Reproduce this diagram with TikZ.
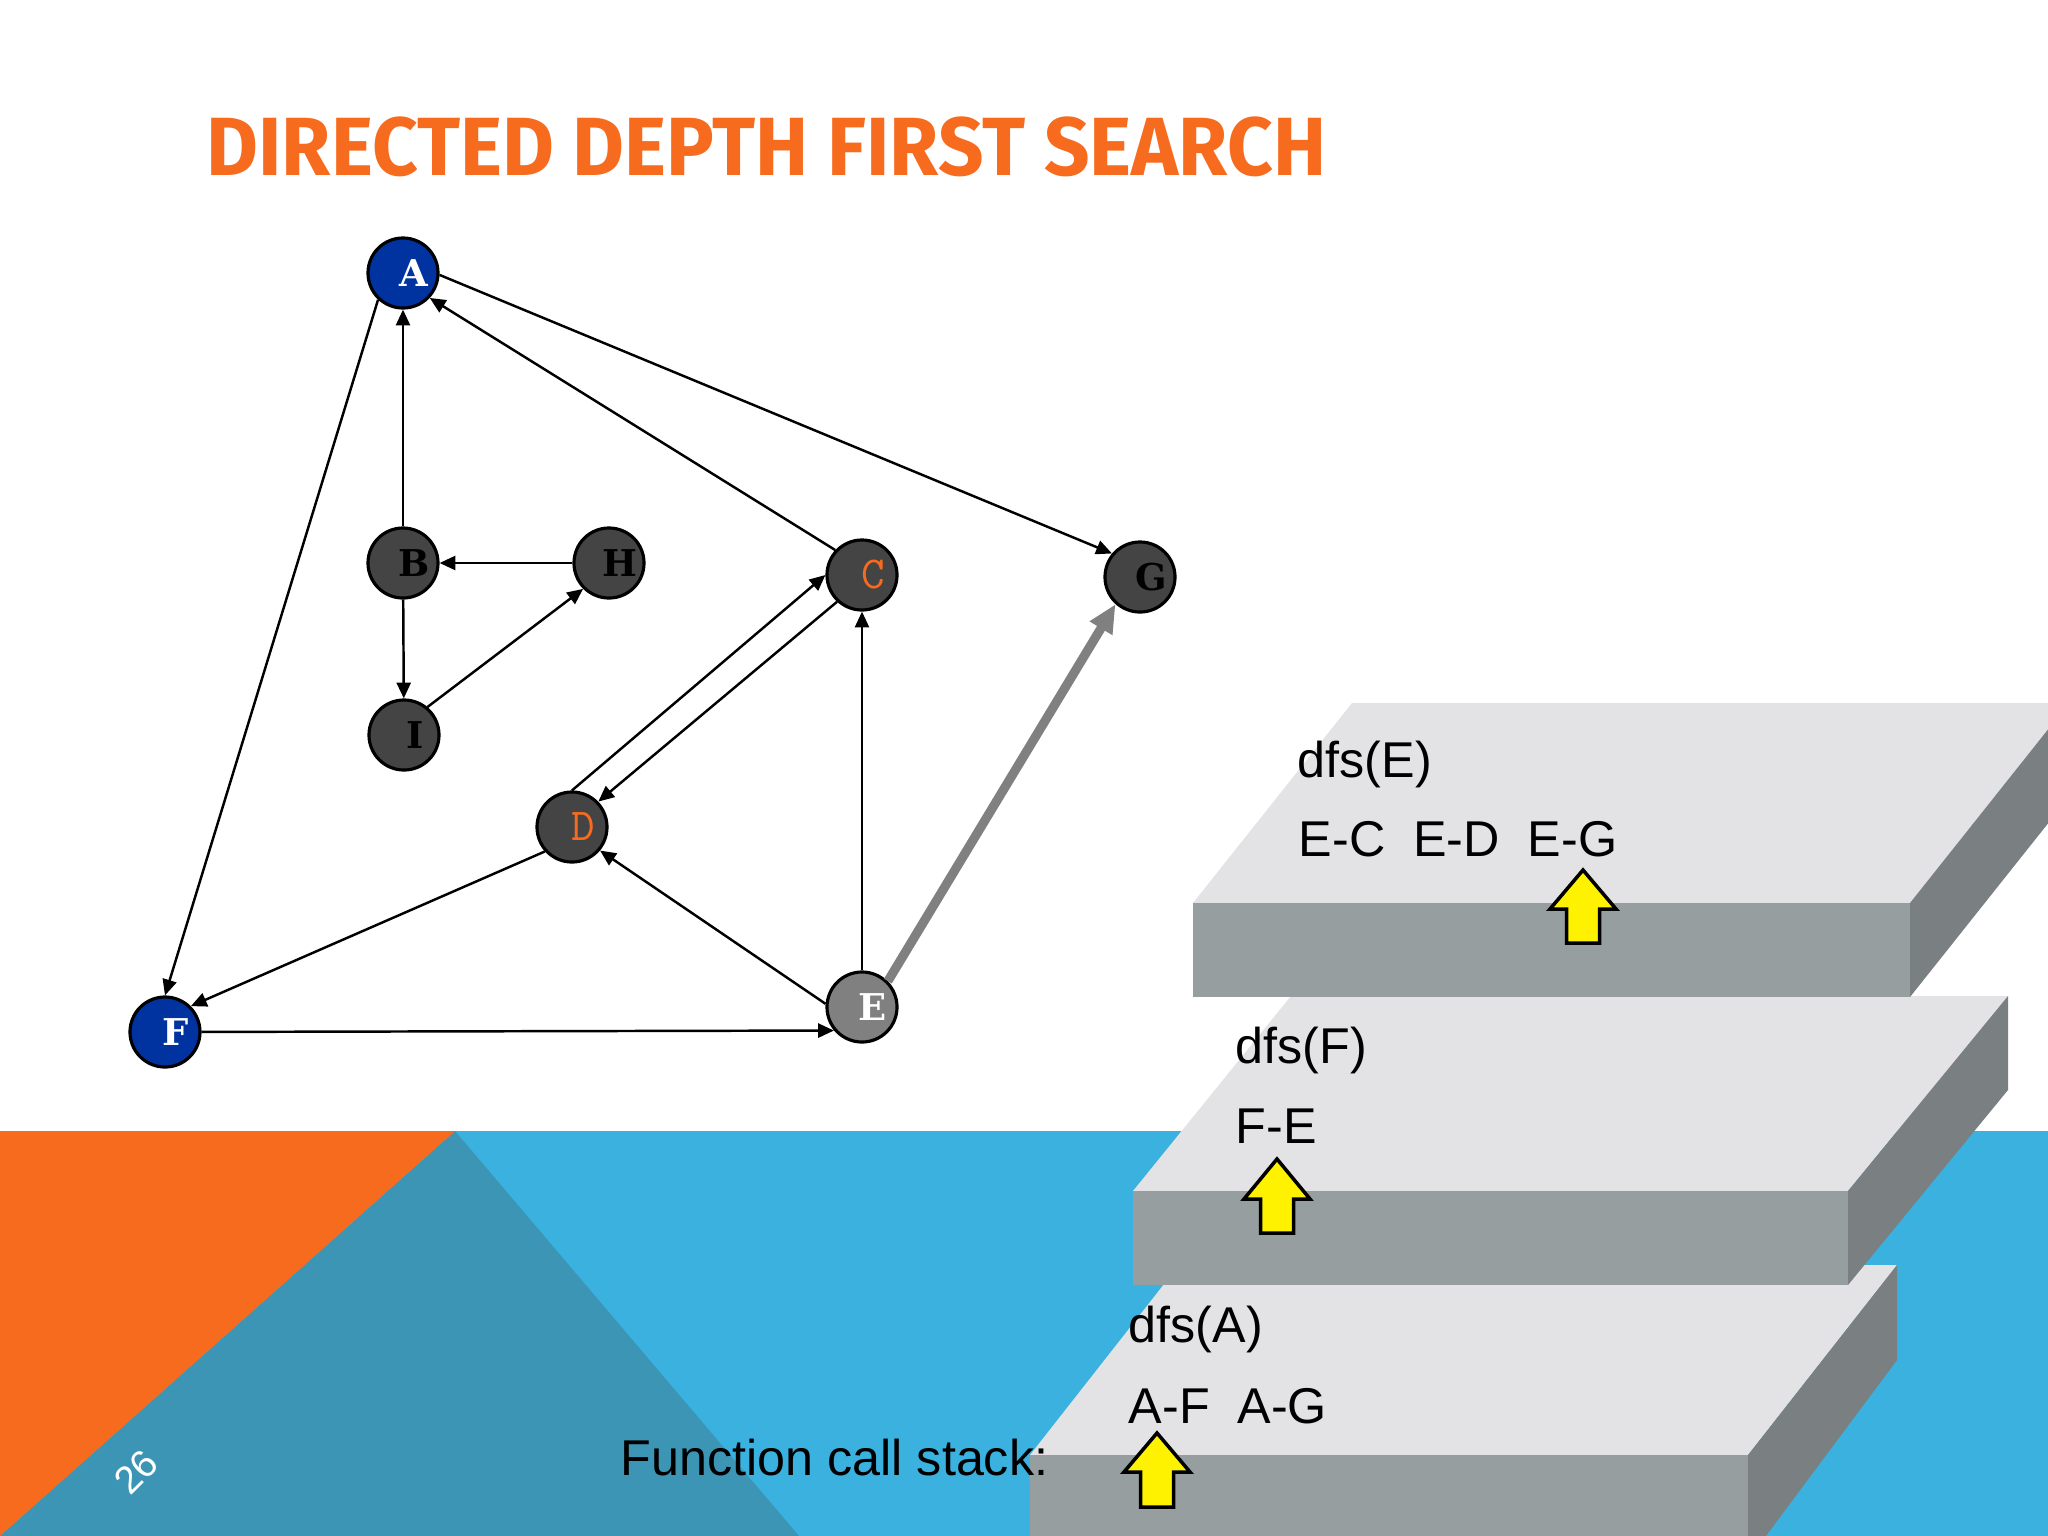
\documentclass[tikz,border=0pt]{standalone}
\usepackage{fontspec}
\setmainfont{Liberation Sans}
\newfontfamily\titlefont{Fira Sans}
\newfontfamily\vtxfont{DejaVu Serif}
\usepackage{graphicx}
\usetikzlibrary{arrows.meta, positioning}

\definecolor{slideorange}{HTML}{F76B1E}
\definecolor{bandblue}{HTML}{3AB1DE}
\definecolor{bandteal}{HTML}{3C95B5}
\definecolor{vtxblue}{HTML}{0033A0}
\definecolor{vtxdark}{HTML}{444444}
\definecolor{vtxgray}{HTML}{808080}
\definecolor{slabtop}{HTML}{E3E3E6}
\definecolor{slabfront}{HTML}{979EA0}
\definecolor{slabside}{HTML}{7A7F82}

\begin{document}
\begin{tikzpicture}[x=0.01cm, y=-0.01cm,
    vtx/.style={circle, draw=black, line width=0.9pt, minimum size=0.7cm, inner sep=0pt, fill=vtxdark},
    lbl/.style={font=\vtxfont\bfseries\fontsize{10.5}{13}\selectfont, xshift=1.1mm},
    lblthin/.style={font=\ttfamily\fontsize{13}{15}\selectfont, xshift=1.1mm, text=slideorange},
    arr/.style={-{Triangle[length=4.5pt,width=4pt]}, line width=0.7pt},
    garr/.style={-{Triangle[length=8pt,width=7pt]}, line width=2.6pt, vtxgray},
    stk/.style={anchor=base west, inner sep=0pt, font=\fontsize{14.3}{17}\selectfont},
    yarr/.style={fill=yellow, draw=black, line width=1pt},
]
    \useasboundingbox (0,0) rectangle (2048,1536);
    \fill[white] (0,0) rectangle (2048,1536);

    % bottom band
    \fill[bandblue] (0,1131) rectangle (2048,1536);
    \fill[bandteal] (455,1131) -- (799,1536) -- (0,1536) -- cycle;
    \fill[slideorange] (0,1131) -- (455,1131) -- (0,1536) -- cycle;
    \node[white, rotate=45, inner sep=0pt, font=\fontsize{11}{13}\selectfont] (pgno) at (136,1472) {26};

    % title
    \node[anchor=base west, inner sep=0pt, text=slideorange, font=\titlefont\bfseries\fontsize{23.5}{28}\selectfont] (title) at (206,175) {\scalebox{0.965}[1]{DIRECTED DEPTH FIRST SEARCH}};

    % graph
    \node[vtx, fill=vtxblue, label={[lbl, white]center:A}] (A) at (403,273) {};
    \node[vtx, label={[lbl]center:B}] (B) at (403,563) {};
    \node[vtx, label={[lbl]center:H}] (H) at (609,563) {};
    \node[vtx, label={[lbl]center:I}] (I) at (404,735) {};
    \node[vtx, label={[lblthin]center:C}] (C) at (862,575) {};
    \node[vtx, label={[lblthin]center:D}] (D) at (572,827) {};
    \node[vtx, fill=vtxgray, label={[lbl, white]center:E}] (E) at (862,1007) {};
    \node[vtx, label={[lbl]center:G}] (G) at (1140,577) {};
    \node[vtx, fill=vtxblue, label={[lbl, white]center:F}] (F) at (165,1032) {};

    \draw[arr] (A.227) -- (F.90);
    \draw[arr] (B) -- (A);
    \draw[arr] (C.137) -- (A.317);
    \draw[arr] (A.-3) -- (G.140);
    \draw[arr] (H) -- (B);
    \draw[arr] (B) -- (I);
    \draw[arr] (I.50) -- (H.225);
    \draw[arr] (D.90) -- (C.180);
    \draw[arr] (C.227) -- (D.44);
    \draw[arr] (E) -- (C);
    \draw[arr] (E.175) -- (D.-40);
    \draw[arr] (D.222) -- (F.45);
    \draw[arr] (F) -- (E.220);
    \draw[garr] (E.45) -- (G.228);

    % call stack, bottom slab
    \fill[slabtop] (1030,1455) -- (1748,1455) -- (1897,1265) -- (1179,1265) -- cycle;
    \fill[slabfront] (1030,1455) rectangle (1748,1560);
    \fill[slabside] (1748,1455) -- (1897,1265) -- (1897,1360) -- (1748,1560) -- cycle;
    \node[stk] (dfsA) at (1128,1342) {dfs(A)};
    \node[stk] (edgA) at (1128,1423) {A-F\ \ A-G};
    \draw[yarr] (1157,1433) -- ++(33,39) -- ++(-16.5,0) -- ++(0,35) -- ++(-33,0) -- ++(0,-35) -- ++(-16.5,0) -- cycle;

    % middle slab
    \fill[slabtop] (1133,1191) -- (1848,1191) -- (2008,996) -- (1291,996) -- cycle;
    \fill[slabfront] (1133,1191) rectangle (1848,1285);
    \fill[slabside] (1848,1191) -- (2008,996) -- (2008,1090) -- (1848,1285) -- cycle;
    \node[stk] (dfsF) at (1235,1063) {dfs(F)};
    \node[stk] (edgF) at (1235,1143) {F-E};
    \draw[yarr] (1277,1159) -- ++(33,40) -- ++(-16.5,0) -- ++(0,34) -- ++(-33,0) -- ++(0,-34) -- ++(-16.5,0) -- cycle;

    % top slab
    \fill[slabtop] (1193,903) -- (1910,903) -- (2069,703) -- (1352,703) -- cycle;
    \fill[slabfront] (1193,903) rectangle (1910,997);
    \fill[slabside] (1910,903) -- (2069,703) -- (2069,797) -- (1910,997) -- cycle;
    \node[stk] (dfsE) at (1297,777) {dfs(E)};
    \node[stk] (edgE) at (1298,856) {E-C\ \ E-D\ \ E-G};
    \draw[yarr] (1583,870) -- ++(33,39) -- ++(-16.5,0) -- ++(0,34) -- ++(-33,0) -- ++(0,-34) -- ++(-16.5,0) -- cycle;

    \node[stk] (fcs) at (620,1475) {Function call stack:};
\end{tikzpicture}
\end{document}
